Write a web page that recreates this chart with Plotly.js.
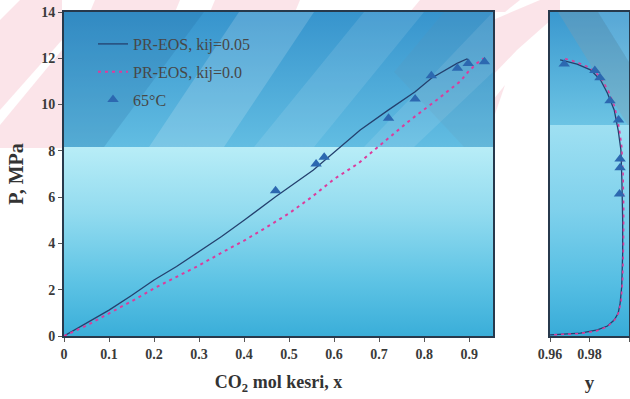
<!DOCTYPE html>
<html>
<head>
<meta charset="utf-8">
<script src="https://cdn.plot.ly/plotly-3.0.1.min.js"></script>
<style>
  html, body { margin: 0; padding: 0; background: #ffffff; }
  #chart { width: 630px; height: 399px; }
</style>
</head>
<body>
<div id="chart"></div>
<script>
// ---------------- data ----------------
// Left panel: liquid phase CO2 mole fraction x vs pressure (MPa)
const xModel005 = [0, 0.05, 0.10, 0.15, 0.20, 0.25, 0.30, 0.35, 0.40, 0.47, 0.554, 0.632, 0.658, 0.721, 0.78, 0.816, 0.85, 0.873, 0.895, 0.90];
const pModel005 = [0, 0.55, 1.12, 1.75, 2.42, 3.00, 3.64, 4.30, 5.00, 6.02, 7.17, 8.47, 8.90, 9.77, 10.55, 11.14, 11.50, 11.78, 11.97, 11.90];

const xModel000 = [0, 0.05, 0.10, 0.15, 0.20, 0.25, 0.30, 0.35, 0.40, 0.45, 0.50, 0.55, 0.60, 0.654, 0.717, 0.769, 0.828, 0.88, 0.898, 0.917, 0.932];
const pModel000 = [0, 0.45, 0.98, 1.50, 2.06, 2.55, 3.05, 3.60, 4.12, 4.70, 5.30, 6.00, 6.78, 7.46, 8.50, 9.33, 10.20, 11.00, 11.42, 11.78, 12.00];

const xExp = [0.470, 0.560, 0.578, 0.721, 0.780, 0.816, 0.874, 0.898, 0.934];
const pExp = [6.28, 7.43, 7.72, 9.41, 10.24, 11.24, 11.57, 11.78, 11.85];

// Right panel: vapour phase CO2 mole fraction y vs pressure (MPa)
const yModel005 = [0.955, 0.9583, 0.9668, 0.9754, 0.984, 0.9891, 0.9925, 0.9945, 0.9955, 0.9963, 0.9968, 0.9968, 0.9964, 0.9959, 0.9945, 0.9925, 0.9891, 0.9856, 0.9805, 0.9737, 0.9668, 0.9651];
const pvModel005 = [0.03, 0.04, 0.07, 0.12, 0.26, 0.43, 0.69, 0.98, 1.41, 2.13, 3.57, 5.00, 6.74, 8.04, 8.90, 9.77, 10.49, 11.06, 11.50, 11.75, 11.90, 11.93];

const yModel000 = [0.955, 0.9640, 0.9740, 0.9830, 0.9890, 0.9928, 0.9947, 0.9960, 0.9968, 0.9972, 0.9973, 0.9970, 0.9963, 0.9950, 0.9928, 0.9895, 0.9855, 0.9800, 0.9730, 0.9670];
const pvModel000 = [0.03, 0.05, 0.10, 0.20, 0.40, 0.70, 1.00, 1.50, 2.50, 4.00, 5.50, 7.00, 8.20, 9.00, 9.90, 10.60, 11.20, 11.60, 11.85, 12.00];

const yExp = [0.9672, 0.9827, 0.9853, 0.9904, 0.9947, 0.9955, 0.9955, 0.9952];
const pvExp = [11.75, 11.47, 11.16, 10.17, 9.33, 7.65, 7.27, 6.14];

const seriesNames = ['PR-EOS, kij=0.05', 'PR-EOS, kij=0.0', '65°C'];
const xTickVals = [0, 0.1, 0.2, 0.3, 0.4, 0.5, 0.6, 0.7, 0.8, 0.9];
const xTickText = ['0', '0.1', '0.2', '0.3', '0.4', '0.5', '0.6', '0.7', '0.8', '0.9'];
const x2TickVals = [0.96, 0.98, 1.0];
const x2TickText = ['0.96', '0.98', '1'];
const yTickVals = [0, 2, 4, 6, 8, 10, 12, 14];

// ---------------- styling ----------------
const W = 630, H = 399;
const solidColor = '#24406e';
const dotColor = '#dc3c9c';
const markColor = '#2c68b0';
const axisColor = '#27394c';
const font = 'Liberation Serif, Times New Roman, serif';

function svgURI(s) { return 'data:image/svg+xml;charset=utf-8,' + encodeURIComponent(s); }

// left panel background (429 x 324 px)
const bgLeft = svgURI(
 '<svg xmlns="http://www.w3.org/2000/svg" width="429" height="324" viewBox="0 0 429 324" preserveAspectRatio="none">' +
 '<defs>' +
 '<linearGradient id="a" x1="0" y1="0" x2="0" y2="1"><stop offset="0" stop-color="#3794cd"/><stop offset="1" stop-color="#62bde2"/></linearGradient>' +
 '<linearGradient id="b" x1="0" y1="0" x2="0" y2="1"><stop offset="0" stop-color="#b8edf7"/><stop offset="0.35" stop-color="#92dbef"/><stop offset="0.7" stop-color="#5fc4e5"/><stop offset="1" stop-color="#3aaed9"/></linearGradient>' +
 '<clipPath id="c"><rect x="0" y="0" width="429" height="135"/></clipPath>' +
 '</defs>' +
 '<rect x="0" y="0" width="429" height="135" fill="url(#a)"/>' +
 '<rect x="0" y="135" width="429" height="189" fill="url(#b)"/>' +
 '<g clip-path="url(#c)">' +
 '<polygon points="0,0 140,0 40,135 0,135" fill="#1b5e98" fill-opacity="0.18"/>' +
 '<polygon points="175,0 250,0 160,135 85,135" fill="#ffffff" fill-opacity="0.16"/>' +
 '<polygon points="300,0 360,0 250,135 190,135" fill="#ffffff" fill-opacity="0.10"/>' +
 '<polygon points="429,0 429,60 350,135 300,135" fill="#ffffff" fill-opacity="0.10"/>' +
 '<polygon points="380,0 429,0 429,135 400,135 330,60" fill="#6a8ea6" fill-opacity="0.12"/>' +
 '</g>' +
 '</svg>');

// right panel background (79 x 324 px)
const bgRight = svgURI(
 '<svg xmlns="http://www.w3.org/2000/svg" width="79" height="324" viewBox="0 0 79 324" preserveAspectRatio="none">' +
 '<defs>' +
 '<linearGradient id="a" x1="0" y1="0" x2="0" y2="1"><stop offset="0" stop-color="#3a98cf"/><stop offset="1" stop-color="#6cc4e4"/></linearGradient>' +
 '<linearGradient id="b" x1="0" y1="0" x2="0" y2="1"><stop offset="0" stop-color="#9fe0f2"/><stop offset="0.4" stop-color="#7fd1ec"/><stop offset="0.75" stop-color="#55bee3"/><stop offset="1" stop-color="#38abd8"/></linearGradient>' +
 '<clipPath id="c"><rect x="0" y="0" width="79" height="113"/></clipPath>' +
 '</defs>' +
 '<rect x="0" y="0" width="79" height="113" fill="url(#a)"/>' +
 '<rect x="0" y="113" width="79" height="211" fill="url(#b)"/>' +
 '<g clip-path="url(#c)">' +
 '<polygon points="8,0 48,0 79,50 79,115" fill="#8c9aa6" fill-opacity="0.30"/>' +
 '<polygon points="48,0 79,0 79,50" fill="#ffffff" fill-opacity="0.15"/>' +
 '</g>' +
 '</svg>');

// faint pink watermark on the paper (630 x 399 px)
const bgPaper = svgURI(
 '<svg xmlns="http://www.w3.org/2000/svg" width="630" height="399" viewBox="0 0 630 399" preserveAspectRatio="none">' +
 '<g fill="#e5607a" fill-opacity="0.17">' +
 '<polygon points="0,20 20,0 62,0 62,40 0,110"/>' +
 '<polygon points="0,125 62,50 62,148 0,148"/>' +
 '<polygon points="95,0 180,0 175,12 90,12"/>' +
 '<polygon points="215,0 300,0 295,12 210,12"/>' +
 '<polygon points="420,0 520,0 505,12 410,12"/>' +
 '<polygon points="493,20 540,0 560,0 560,12 517,50 493,75"/>' +
 '<polygon points="493,100 505,85 493,120"/>' +
 '</g>' +
 '</svg>');

const traces = [
  { x: xModel005, y: pModel005, xaxis: 'x', yaxis: 'y', type: 'scatter', mode: 'lines',
    name: seriesNames[0], legendgroup: 'a', line: { color: solidColor, width: 1.3 } },
  { x: xModel000, y: pModel000, xaxis: 'x', yaxis: 'y', type: 'scatter', mode: 'lines',
    name: seriesNames[1], legendgroup: 'b', line: { color: dotColor, width: 2, dash: '3px,4px' } },
  { x: xExp, y: pExp, xaxis: 'x', yaxis: 'y', type: 'scatter', mode: 'markers',
    name: seriesNames[2], legendgroup: 'c', marker: { symbol: 'triangle-up', size: 10, color: markColor } },
  { x: yModel005, y: pvModel005, xaxis: 'x2', yaxis: 'y2', type: 'scatter', mode: 'lines',
    showlegend: false, line: { color: solidColor, width: 1.3 } },
  { x: yModel000, y: pvModel000, xaxis: 'x2', yaxis: 'y2', type: 'scatter', mode: 'lines',
    showlegend: false, line: { color: dotColor, width: 1.6, dash: '3px,4px' } },
  { x: yExp, y: pvExp, xaxis: 'x2', yaxis: 'y2', type: 'scatter', mode: 'markers',
    showlegend: false, marker: { symbol: 'triangle-up', size: 10, color: markColor } }
];

const yDom = [1 - 336 / H, 1 - 12 / H];
const tickFont = { family: font, size: 14, color: '#3a3a3a', weight: 'bold' };
const axisCommon = {
  showline: true, linecolor: axisColor, linewidth: 2, mirror: true,
  showgrid: false, zeroline: false, ticks: 'outside', ticklen: 4, tickwidth: 1,
  tickcolor: '#555555', tickfont: tickFont
};

const layout = {
  width: W, height: H,
  margin: { l: 0, r: 0, t: 0, b: 0 },
  paper_bgcolor: '#ffffff',
  plot_bgcolor: 'rgba(0,0,0,0)',
  showlegend: true,
  legend: {
    x: 93 / W, y: 1 - 27 / H, xanchor: 'left', yanchor: 'top',
    bgcolor: 'rgba(0,0,0,0)', borderwidth: 0, tracegroupgap: 4,
    font: { family: font, size: 16, color: '#474747' }
  },
  xaxis: Object.assign({}, axisCommon, {
    domain: [64 / W, 493 / W], range: [0, 0.953],
    tickvals: xTickVals, ticktext: xTickText,
    title: { text: 'CO<sub>2</sub> mol kesri, x', standoff: 15,
      font: { family: font, size: 18, color: '#333333', weight: 'bold' } }
  }),
  yaxis: Object.assign({}, axisCommon, {
    domain: yDom, range: [0, 14], tickvals: yTickVals,
    title: { text: 'P, MPa', standoff: 12,
      font: { family: font, size: 20, color: '#333333', weight: 'bold' } }
  }),
  xaxis2: Object.assign({}, axisCommon, {
    domain: [550 / W, 629 / W], range: [0.96, 1.0], anchor: 'y2',
    tickvals: x2TickVals, ticktext: x2TickText,
    title: { text: 'y', standoff: 15,
      font: { family: font, size: 19, color: '#333333', weight: 'bold' } }
  }),
  yaxis2: Object.assign({}, axisCommon, {
    domain: yDom, range: [0, 14], anchor: 'x2', matches: 'y',
    ticks: '', showticklabels: false
  }),
  images: [
    { source: bgPaper, xref: 'paper', yref: 'paper', x: 0, y: 1, sizex: 1, sizey: 1,
      xanchor: 'left', yanchor: 'top', sizing: 'stretch', layer: 'below' },
    { source: bgLeft, xref: 'x domain', yref: 'y domain', x: 0, y: 1, sizex: 1, sizey: 1,
      xanchor: 'left', yanchor: 'top', sizing: 'stretch', layer: 'below' },
    { source: bgRight, xref: 'x2 domain', yref: 'y2 domain', x: 0, y: 1, sizex: 1, sizey: 1,
      xanchor: 'left', yanchor: 'top', sizing: 'stretch', layer: 'below' }
  ]
};

Plotly.newPlot('chart', traces, layout, { displayModeBar: false, staticPlot: true });
</script>
</body>
</html>
